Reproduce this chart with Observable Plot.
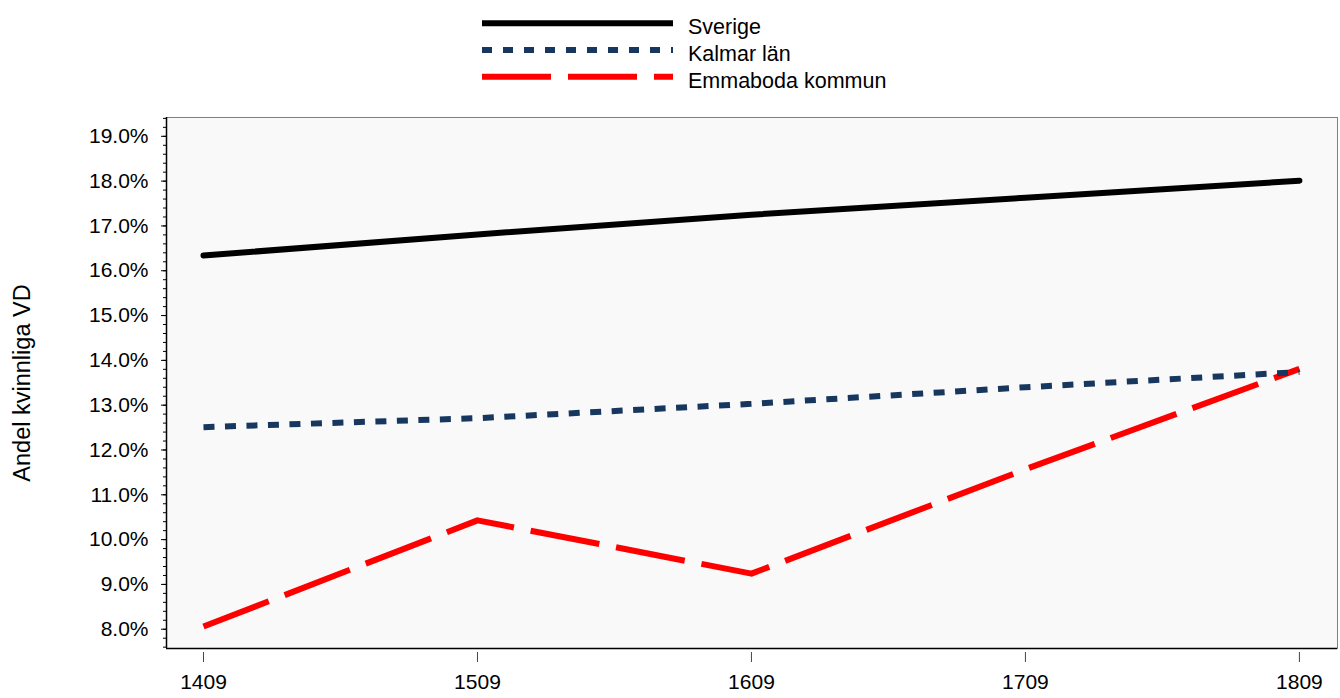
<!DOCTYPE html>
<html>
<head>
<meta charset="utf-8">
<script src="https://cdn.jsdelivr.net/npm/d3@7"></script>
<script src="https://cdn.jsdelivr.net/npm/@observablehq/plot@0.6"></script>
<style>
  html, body { margin: 0; padding: 0; background: #fff; }
  #legend, #legend svg { display: block; }
  #chart svg { display: block; }
</style>
</head>
<body>
<div id="legend"></div>
<div id="chart"></div>
<script>
// ---- data ----
const years = [1409, 1509, 1609, 1709, 1809];
const sverige = [0.1634, 0.1681, 0.1725, 0.1763, 0.1801];
const kalmar = [0.1251, 0.1271, 0.1303, 0.1340, 0.1374];
const emmaboda = [0.0806, 0.1043, 0.0924, 0.1157, 0.1381];
const seriesNames = ["Sverige", "Kalmar län", "Emmaboda kommun"];
const yTicks = [0.08, 0.09, 0.10, 0.11, 0.12, 0.13, 0.14, 0.15, 0.16, 0.17, 0.18, 0.19];
const yLabel = "Andel kvinnliga VD";

const colors = ["#000000", "#17375E", "#FF0000"];
const dashes = [null, "11 10.5", "70 17"];
const caps = ["round", "butt", "butt"];
const values = [sverige, kalmar, emmaboda];

const rows = [];
seriesNames.forEach((name, i) => {
  years.forEach((yr, j) => rows.push({series: name, year: yr, value: values[i][j]}));
});

const minorTicks = d3.range(38, 98).map(k => k * 0.002);
const font = "'Liberation Sans', Arial, Helvetica, sans-serif";

// ---- legend (above the svg) ----
const leg = d3.select("#legend").append("svg")
  .attr("width", 1340).attr("height", 100)
  .style("font-family", font);
seriesNames.forEach((name, i) => {
  const cy = 23.3 + i * 26.7;
  leg.append("line")
    .attr("x1", 482).attr("x2", 673).attr("y1", cy).attr("y2", cy)
    .attr("stroke", colors[i]).attr("stroke-width", 6)
    .attr("stroke-dasharray", dashes[i] ? (i === 2 ? "69 17" : "10 11") : null);
  leg.append("text")
    .attr("x", 688).attr("y", cy + 11)
    .attr("font-size", 21.5).attr("fill", "#000")
    .text(name);
});

// ---- chart ----
const marks = [
  Plot.frame({fill: "#F9F9F9", stroke: "#7F7F7F"}),
  Plot.axisY({ticks: minorTicks, tickSize: 3, tickFormat: () => "", label: null, stroke: "#000"}),
  Plot.axisY({ticks: yTicks, tickSize: 5, tickPadding: 13, tickFormat: d3.format(".1%"), label: null, stroke: "#000", fill: "#000"}),
  Plot.axisX({ticks: years, tickSize: 10, dy: 4, tickPadding: 12, tickFormat: d => String(d), label: null, stroke: "#444", fill: "#000"}),
  Plot.ruleX([1395.5], {stroke: "#000", strokeWidth: 1.5}),
  Plot.ruleY([0.0757], {stroke: "#000", strokeWidth: 1.5}),
  Plot.text([yLabel], {frameAnchor: "left", textAnchor: "middle", lineAnchor: "middle", rotate: -90, dx: -144, fontSize: 23.5, fill: "#000"})
];
seriesNames.slice().reverse().forEach((name) => {
  const i = seriesNames.indexOf(name);
  marks.push(Plot.line(rows.filter(r => r.series === name), {
    x: "year", y: "value",
    stroke: colors[i], strokeWidth: 6,
    strokeDasharray: dashes[i] || undefined,
    strokeLinecap: caps[i], strokeLinejoin: "round"
  }));
});

const chart = Plot.plot({
  width: 1340,
  height: 598,
  marginTop: 17,
  marginBottom: 50,
  marginLeft: 166,
  marginRight: 3,
  style: {fontFamily: font, fontSize: "21px", background: "#fff", color: "#000"},
  x: {type: "linear", domain: [1395.5, 1822.9]},
  y: {type: "linear", domain: [0.0757, 0.1942]},
  marks
});
document.getElementById("chart").appendChild(chart);
</script>
</body>
</html>
